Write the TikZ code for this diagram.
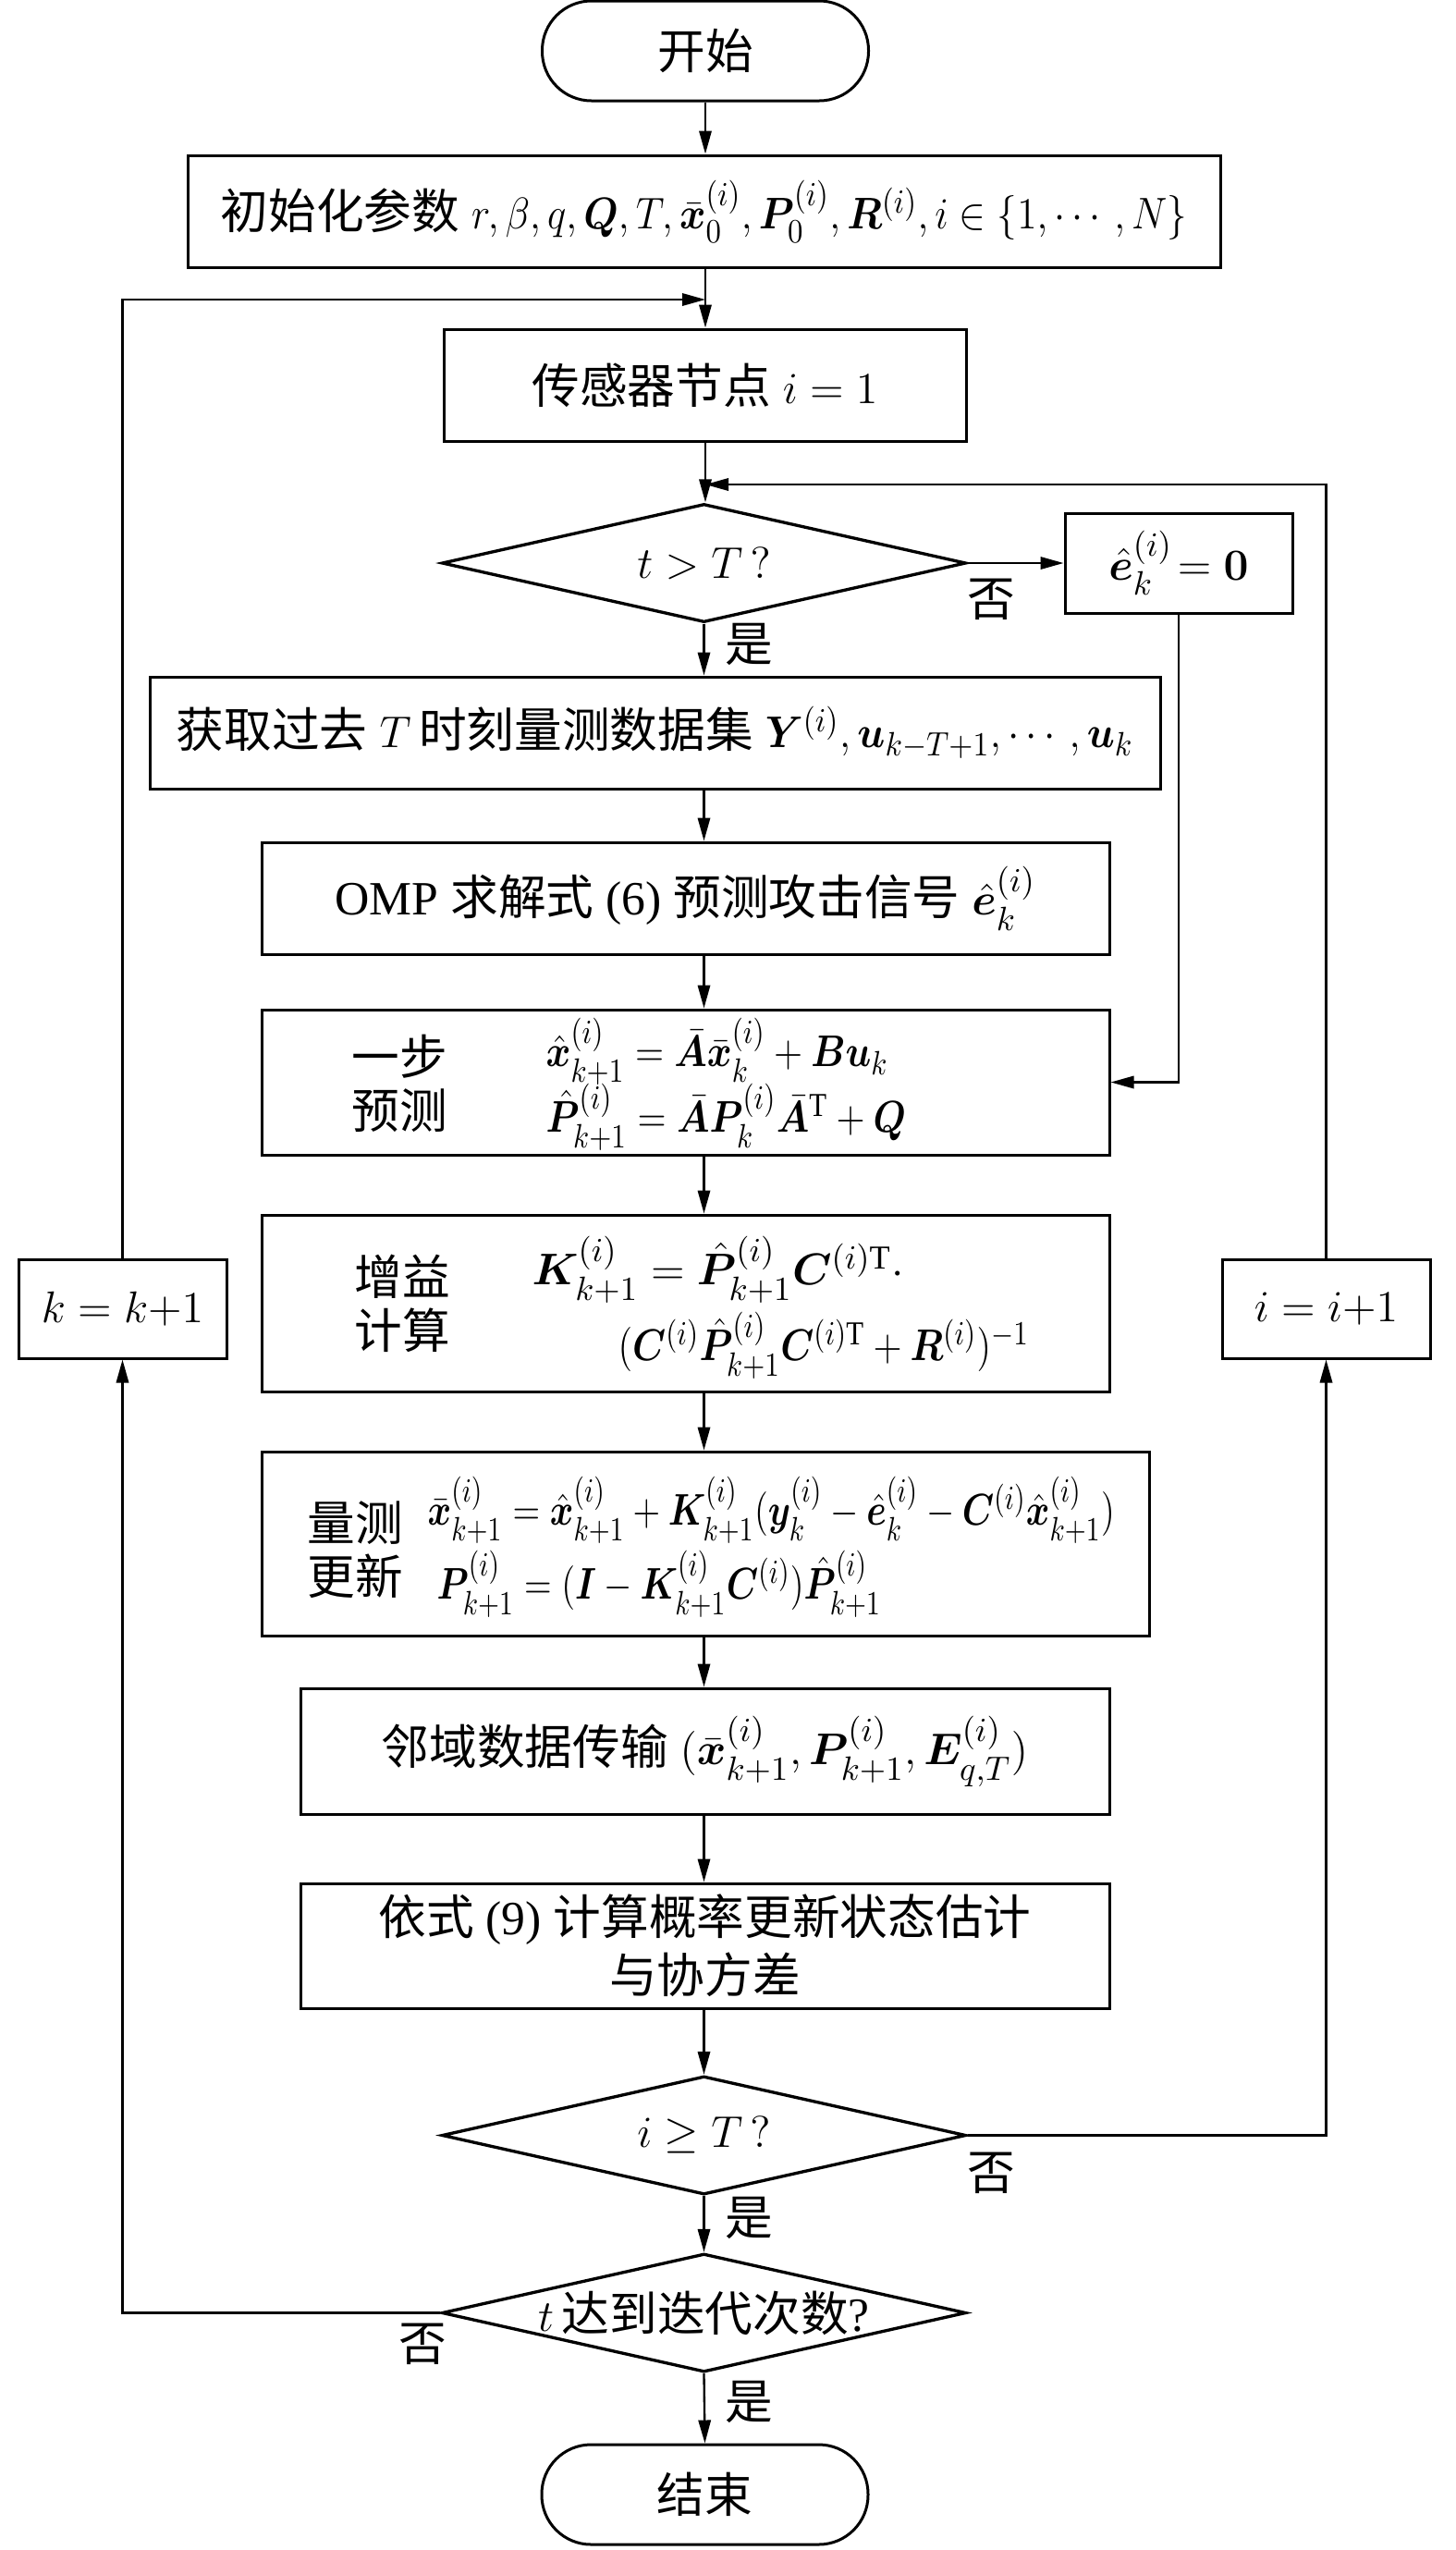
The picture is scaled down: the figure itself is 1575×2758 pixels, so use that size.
\documentclass[tikz,border=0pt]{standalone}
\usepackage{amsmath}
\usepackage{bm}
\usepackage{graphicx}
\usepackage{fontspec}
\setmainfont{Liberation Serif}
\newfontfamily\cjk{Noto Sans CJK SC}
\usetikzlibrary{arrows.meta,shapes.geometric}
\newcommand\zhtext[1]{{\cjk #1}}
\newcommand\hsq[2]{\scalebox{#1}[1]{#2}}
\tikzset{
  boxn/.style={draw, line width=0.9pt, rectangle, inner sep=0pt},
  term/.style={draw, line width=0.9pt, rounded corners=16pt, inner sep=0pt, minimum width=105.9pt, minimum height=32.4pt},
  dia/.style={draw, line width=1pt, diamond, inner sep=0pt, minimum width=170.1pt, minimum height=38.4pt},
  arr/.style={line width=0.7pt, -{Triangle[length=7.5pt,width=4pt]}},
  txt/.style={inner sep=0pt},
  twol/.style={inner sep=0pt, align=center, font=\fontsize{15.5}{17.5}\selectfont},
}
\begin{document}
\begin{tikzpicture}[x=0.3pt,y=-0.3pt,font=\fontsize{15.5}{18.5}\selectfont]
\useasboundingbox (0,0) rectangle (1575,2758);
% terminals and boxes
\node[term] (start) at (763,55) {\zhtext{开始}};
\node[boxn, minimum width=335.1pt, minimum height=36.3pt] (init) at (761.5,228.5)
  {\zhtext{初始化参数} \hsq{0.9}{$r, \beta, q, \bm{Q}, T, \bar{\bm{x}}_0^{(i)}, \bm{P}_0^{(i)}, \bm{R}^{(i)}, i\in\{1, \cdots, N\}$}};
\node[boxn, minimum width=169.5pt, minimum height=36.3pt] (sensor) at (762.5,416.5) {\zhtext{传感器节点} $i = 1$};
\node[dia] (d1) at (761.5,609) {};
\node[txt] (d1t) at (d1) {$t > T\,?$};
\node[boxn, minimum width=73.8pt, minimum height=32.4pt] (ebox) at (1275,609) {$\hat{\bm{e}}_k^{(i)}\!= \bm{0}$};
\node[boxn, minimum width=327.9pt, minimum height=36.3pt] (get) at (708.5,792.5)
  {\zhtext{获取过去} $T$\,\zhtext{时刻量测数据集} \hsq{0.92}{$\bm{Y}^{(i)}, \bm{u}_{k-T+1}, \cdots, \bm{u}_k$}};
\node[boxn, minimum width=275.1pt, minimum height=36.3pt] (omp) at (741.5,971.5)
  {OMP \zhtext{求解式} (6) \zhtext{预测攻击信号} $\hat{\bm{e}}_k^{(i)}$};
% one-step prediction
\node[boxn, minimum width=275.1pt, minimum height=47.1pt] (pred) at (741.5,1170.5) {};
\node[twol] (predl) at (432,1172) {\zhtext{一步}\\\zhtext{预测}};
\node[txt, anchor=west] (pred1) at (590,1137) {\hsq{0.85}{$\hat{\bm{x}}_{k+1}^{(i)} = \bar{\bm{A}}\bar{\bm{x}}_k^{(i)} + \bm{B}\bm{u}_k$}};
\node[txt, anchor=west] (pred2) at (590,1208) {\hsq{0.85}{$\hat{\bm{P}}_{k+1}^{(i)} = \bar{\bm{A}}\bm{P}_k^{(i)}\bar{\bm{A}}^{\mathrm{T}} + \bm{Q}$}};
% gain
\node[boxn, minimum width=275.1pt, minimum height=57.3pt] (gain) at (741.5,1409.5) {};
\node[twol] (gainl) at (435,1410) {\zhtext{增益}\\\zhtext{计算}};
\node[txt, anchor=west] (gain1) at (575,1373) {$\bm{K}_{k+1}^{(i)} = \hat{\bm{P}}_{k+1}^{(i)}\bm{C}^{(i)\mathrm{T}}\cdot$};
\node[txt, anchor=west] (gain2) at (668,1455) {\hsq{0.85}{$(\bm{C}^{(i)}\hat{\bm{P}}_{k+1}^{(i)}\bm{C}^{(i)\mathrm{T}} + \bm{R}^{(i)})^{-1}$}};
% measurement update
\node[boxn, minimum width=288pt, minimum height=59.7pt] (upd) at (763,1669.5) {};
\node[twol] (updl) at (384,1676) {\zhtext{量测}\\\zhtext{更新}};
\node[txt, anchor=west] (upd1) at (462,1633) {\hsq{0.81}{$\bar{\bm{x}}_{k+1}^{(i)} = \hat{\bm{x}}_{k+1}^{(i)} + \bm{K}_{k+1}^{(i)}(\bm{y}_k^{(i)} - \hat{\bm{e}}_k^{(i)} - \bm{C}^{(i)}\hat{\bm{x}}_{k+1}^{(i)})$}};
\node[txt, anchor=west] (upd2) at (472,1713) {\hsq{0.81}{$\bm{P}_{k+1}^{(i)} = (\bm{I} - \bm{K}_{k+1}^{(i)}\bm{C}^{(i)})\hat{\bm{P}}_{k+1}^{(i)}$}};
% neighbourhood
\node[boxn, minimum width=262.5pt, minimum height=40.8pt] (nbr) at (762.5,1894)
  {\zhtext{邻域数据传输} $(\bar{\bm{x}}_{k+1}^{(i)}, \bm{P}_{k+1}^{(i)}, \bm{E}_{q,T}^{(i)})$};
\node[boxn, minimum width=262.5pt, minimum height=40.5pt, align=center, font=\fontsize{15.5}{19}\selectfont] (fuse) at (762.5,2104.5)
  {\zhtext{依式} (9) \zhtext{计算概率更新状态估计}\\\zhtext{与协方差}};
\node[dia] (d2) at (761.5,2309.5) {};
\node[txt] (d2t) at (d2) {$i \geq T\,?$};
\node[dia] (d3) at (761.5,2501.5) {};
\node[txt] (d3t) at (d3) {$t$\,\zhtext{达到迭代次数}?};
\node[term] (stop) at (762.5,2698) {\zhtext{结束}};
\node[boxn, minimum width=67.5pt, minimum height=32.1pt] (kbox) at (132.5,1415.5) {$k = k{+}1$};
\node[boxn, minimum width=67.5pt, minimum height=32.1pt] (ibox) at (1434.5,1415.5) {$i = i{+}1$};
% junctions
\coordinate (jL) at (763,324);
\coordinate (jR) at (763,524);
% main flow
\draw[arr] (start.south) -- (start.south |- init.north);
\draw[arr] (start.south |- init.south) -- (start.south |- sensor.north);
\draw[arr] (start.south |- sensor.south) -- (start.south |- d1.north);
\draw[arr] (d1.south) -- (d1.south |- get.north);
\draw[arr] (d1.south |- get.south) -- (d1.south |- omp.north);
\draw[arr] (d1.south |- omp.south) -- (d1.south |- pred.north);
\draw[arr] (d1.south |- pred.south) -- (d1.south |- gain.north);
\draw[arr] (d1.south |- gain.south) -- (d1.south |- upd.north);
\draw[arr] (d1.south |- upd.south) -- (d1.south |- nbr.north);
\draw[arr] (d1.south |- nbr.south) -- (d1.south |- fuse.north);
\draw[arr] (d1.south |- fuse.south) -- (d2.north);
\draw[arr] (d2.south) -- (d3.north);
\draw[arr] (d3.south) -- (stop.north);
% branches
\draw[arr] (d1.east) -- (ebox.west);
\draw[arr] (ebox.south) |- (pred.east);
\draw[arr] (d2.east) -| (ibox.south);
\draw[arr] (d3.west) -| (kbox.south);
\draw[arr] (ibox.north) |- (jR);
\draw[arr] (kbox.north) |- (jL);
% yes / no labels
\node[txt] (n1) at (1072,648) {\zhtext{否}};
\node[txt] (y1) at (810,697) {\zhtext{是}};
\node[txt] (n2) at (1072,2350) {\zhtext{否}};
\node[txt] (y2) at (810,2399) {\zhtext{是}};
\node[txt] (n3) at (457,2535) {\zhtext{否}};
\node[txt] (y3) at (810,2598) {\zhtext{是}};
\end{tikzpicture}
\end{document}
